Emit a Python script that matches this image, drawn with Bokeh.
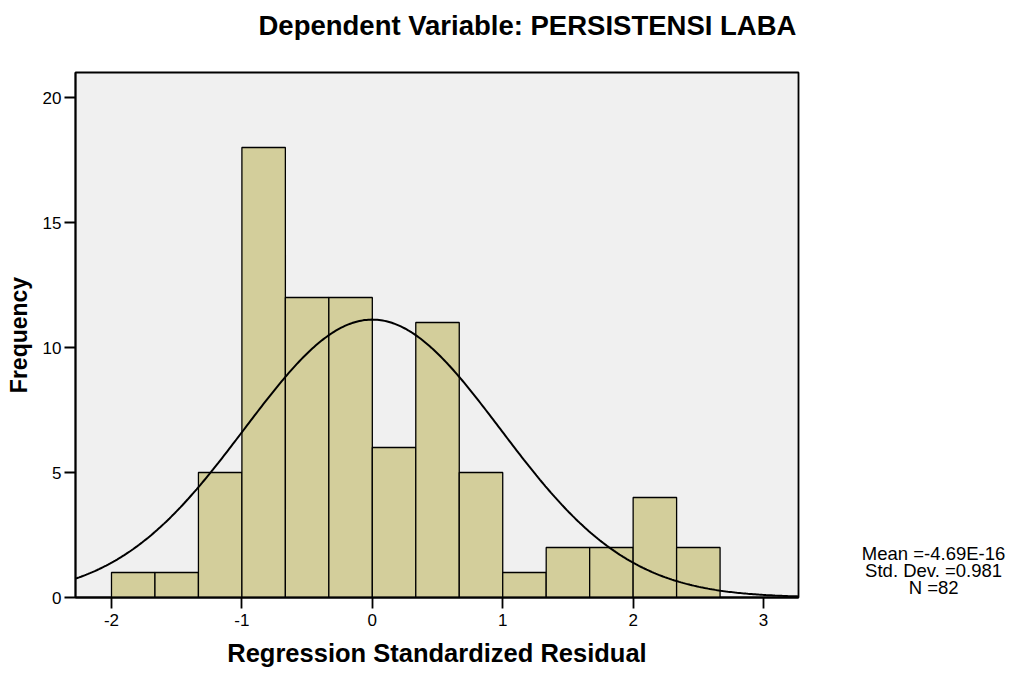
import math
from bokeh.plotting import figure
from bokeh.models import Range1d, FixedTicker
from bokeh.layouts import row, column
from bokeh.core.properties import value
from bokeh.embed import file_html
from bokeh.resources import INLINE

# Histogram data (bin edges start at -2, width 1/3)
bin_left = [-2.0, -1.6667, -1.3333, -1.0, -0.6667, -0.3333, 0.0, 0.3333, 0.6667, 1.0, 1.3333, 1.6667, 2.0, 2.3333]
counts = [1, 1, 5, 18, 12, 12, 6, 11, 5, 1, 2, 2, 4, 2]
bin_width = 1.0 / 3.0

# Summary statistics shown on the chart
MEAN = -4.69e-16
SD = 0.981
N = 82
stats_text = ["Mean =-4.69E-16", "Std. Dev. =0.981", "N =82"]

title_text = "Dependent Variable: PERSISTENSI LABA"
x_ticks = [-2, -1, 0, 1, 2, 3]
x_tick_labels = {-2: "-2", -1: "-1", 0: "0", 1: "1", 2: "2", 3: "3"}
y_ticks = [0, 5, 10, 15, 20]

FONT = "Liberation Sans"
XMIN, XMAX = -2.276, 3.268
YMIN, YMAX = 0, 21
TITLE_H = 40

# Title strip
t = figure(width=1015, height=TITLE_H, output_backend="svg", toolbar_location=None,
           x_range=Range1d(0, 1015), y_range=Range1d(TITLE_H, 0),
           min_border=0)
t.axis.visible = False
t.grid.visible = False
t.outline_line_color = None
t.background_fill_color = "white"
t.border_fill_color = "white"
t.text(x=[258], y=[24.5], text=[title_text], text_font=value(FONT), text_font_style="bold",
       text_font_size="27.5px", text_align="left", text_baseline="middle", text_color="black")

p = figure(width=820, height=673 - TITLE_H, output_backend="svg", toolbar_location=None,
           x_range=Range1d(XMIN, XMAX), y_range=Range1d(YMIN, YMAX),
           min_border_left=75, min_border_right=22, min_border_top=72 - TITLE_H, min_border_bottom=76)
p.background_fill_color = "#f0f0f0"
p.border_fill_color = "white"
p.outline_line_color = "black"
p.outline_line_width = 1.8
p.grid.visible = False

bin_right = [b + bin_width for b in bin_left]
p.quad(left=bin_left, right=bin_right, bottom=0, top=counts,
       fill_color="#d3ce9b", line_color="black", line_width=1.3)

# Normal curve from shown mean / sd / N
xs = [XMIN + i * (XMAX - XMIN) / 400 for i in range(401)]
ys = [N * bin_width / (SD * math.sqrt(2 * math.pi)) * math.exp(-0.5 * ((x - MEAN) / SD) ** 2) for x in xs]
p.line(xs, ys, line_color="black", line_width=2)

for ax in (p.xaxis[0], p.yaxis[0]):
    ax.axis_line_color = "black"
    ax.axis_line_width = 1.8
    ax.major_tick_line_color = "black"
    ax.major_tick_line_width = 1.8
    ax.major_tick_out = 11
    ax.major_tick_in = 0
    ax.minor_tick_line_color = None
    ax.major_label_text_font = FONT
    ax.major_label_text_font_size = "17px"
    ax.major_label_text_color = "black"
    ax.axis_label_text_font = FONT
    ax.axis_label_text_font_style = "bold"
    ax.axis_label_text_color = "black"

p.xaxis.ticker = FixedTicker(ticks=x_ticks)
p.xaxis.major_label_overrides = x_tick_labels
p.yaxis.ticker = FixedTicker(ticks=y_ticks)
p.xaxis.major_label_standoff = 5
p.yaxis.major_label_standoff = 3
p.xaxis.axis_label = "Regression Standardized Residual"
p.yaxis.axis_label = "Frequency"
p.xaxis.axis_label_text_font_size = "25.5px"
p.yaxis.axis_label_text_font_size = "23px"
p.xaxis.axis_label_standoff = 10
p.yaxis.axis_label_standoff = 8

# Side panel with the summary statistics
s = figure(width=195, height=673 - TITLE_H, output_backend="svg", toolbar_location=None,
           x_range=Range1d(0, 1), y_range=Range1d(YMIN, YMAX),
           min_border_left=0, min_border_right=0, min_border_top=72 - TITLE_H, min_border_bottom=76)
s.axis.visible = False
s.grid.visible = False
s.outline_line_color = None
s.background_fill_color = "white"
s.border_fill_color = "white"
stat_y = [1.76, 1.08, 0.40]
s.text(x=[0.58] * 3, y=stat_y, text=stats_text, text_font=value(FONT),
       text_font_size="18.5px", text_align="center", text_baseline="middle", text_color="black")

layout = column(t, row(p, s, spacing=0), spacing=0)
open("out.html", "w").write(file_html(layout, INLINE))
